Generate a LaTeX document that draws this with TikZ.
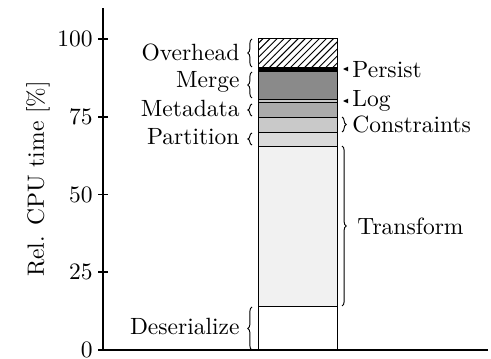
\documentclass[tikz,border=0pt]{standalone}
\usetikzlibrary{patterns,decorations.pathreplacing}
\definecolor{cTr}{gray}{0.945}
\definecolor{cPa}{gray}{0.855}
\definecolor{cCo}{gray}{0.79}
\definecolor{cMe}{gray}{0.67}
\definecolor{cLo}{gray}{0.78}
\definecolor{cMg}{gray}{0.54}
\begin{document}
\begin{tikzpicture}[x=0.4255pt,y=0.4255pt,
  seg/.style={draw=black,line width=0.4pt},
  bracepath/.style={decorate,decoration={brace,amplitude=1.8pt},line width=0.4pt},
  lab/.style={inner sep=0pt},
  axisline/.style={line width=0.45pt},
  pointer/.style={fill=black}]
\useasboundingbox (0,0) rectangle (491,358);
% stacked bar
\draw[seg,fill=white] (258,8) rectangle (337,51.5);
\draw[seg,fill=cTr] (258,51.5) rectangle (337,211.5);
\draw[seg,fill=cPa] (258,211.5) rectangle (337,225.7);
\draw[seg,fill=cCo] (258,225.7) rectangle (337,240.5);
\draw[seg,fill=cMe] (258,240.5) rectangle (337,255.4);
\draw[seg,fill=cLo] (258,255.4) rectangle (337,258.2);
\draw[seg,fill=cMg] (258,258.2) rectangle (337,286.5);
\draw[seg,fill=black] (258,286.5) rectangle (337,290.5);
\draw[seg,pattern=north east lines] (258,290.5) rectangle (337,319.5);
% axes
\draw[axisline] (103,8) -- (103,350);
\draw[axisline] (103,8) -- (488,8);
\foreach \v/\yy in {0/8,25/86,50/163.5,75/241,100/319}{
  \draw[axisline] (98,\yy) -- (108,\yy);
  \node[lab,anchor=east] (t\v) at (93,\yy) {\v};
}
\node[rotate=90] (ylab) at (38,179) {Rel. CPU time [\%]};
% left labels and braces
\node[lab,anchor=east] (lOverhead) at (240,306) {Overhead};
\draw[bracepath] (252,291) -- (252,319);
\node[lab,anchor=east] (lMerge) at (240,276) {Merge};
\draw[bracepath] (252,260) -- (252,286);
\node[lab,anchor=east] (lMetadata) at (240,250) {Metadata};
\draw[bracepath] (252,242) -- (252,254);
\node[lab,anchor=east] (lPartition) at (240,221) {Partition};
\draw[bracepath] (252,213) -- (252,225);
\node[lab,anchor=east] (lDeserialize) at (240,32) {Deserialize};
\draw[bracepath] (252,8) -- (252,51);
% right labels
\fill[pointer] (343,289) -- (348,291.3) -- (348,286.7) -- cycle;
\node[lab,anchor=west] (lPersist) at (352,288) {Persist};
\fill[pointer] (343,257) -- (348,259.3) -- (348,254.7) -- cycle;
\node[lab,anchor=west] (lLog) at (352,257) {Log};
\draw[bracepath] (342,241) -- (342,226);
\node[lab,anchor=west] (lConstraints) at (352,234) {Constraints};
\draw[bracepath] (342,212) -- (342,52);
\node[lab,anchor=west] (lTransform) at (357,132) {Transform};
\end{tikzpicture}
\end{document}
